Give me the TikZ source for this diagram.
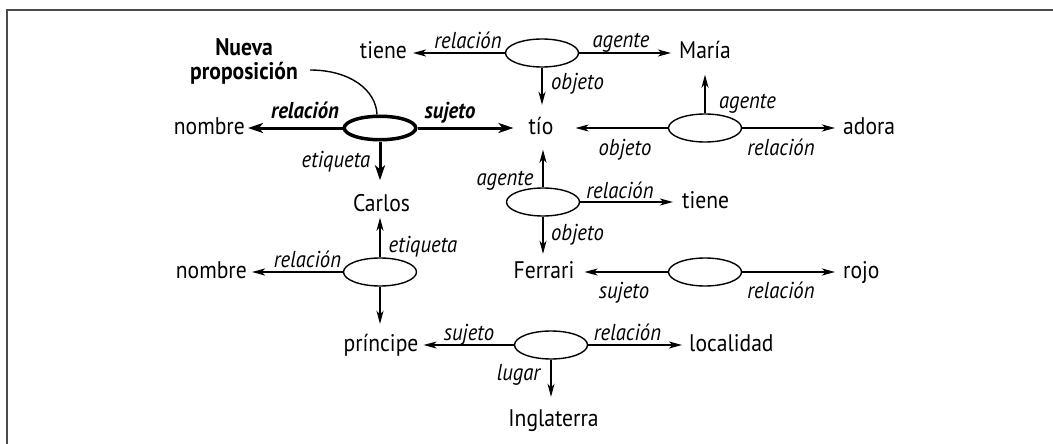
\documentclass[tikz,border=0pt]{standalone}
\usepackage{fontspec}
\setmainfont{PT Sans}[FakeStretch=0.9]
\usetikzlibrary{arrows.meta,shapes.geometric,calc}
\begin{document}
\begin{tikzpicture}[x=1pt,y=-1pt,
  font=\fontsize{24}{25}\selectfont,
  word/.style={inner sep=0pt, text height=17pt, text depth=5pt},
  lab/.style={font=\fontsize{23}{24}\selectfont\itshape, inner sep=0pt, anchor=base},
  blab/.style={font=\fontsize{23}{24}\selectfont\bfseries\itshape, inner sep=0pt, anchor=base},
  prop/.style={ellipse, draw, line width=1.4pt, minimum width=73pt, minimum height=28pt, inner sep=0pt},
  bprop/.style={ellipse, draw, line width=3.5pt, minimum width=71.5pt, minimum height=23.5pt, inner sep=0pt},
  rel/.style={line width=1.4pt, -{Stealth[length=13pt,width=7pt,inset=3.5pt]}},
  brel/.style={line width=3pt, -{Stealth[length=15pt,width=10pt,inset=4pt]}},
  frame/.style={line width=2pt, gray!60!black}
]
\useasboundingbox (0,0) rectangle (1053,444);
\draw[frame] (7,444) -- (7,10) -- (1053,10);

% propositions
\node[prop] (e1) at (542,53) {};
\node[bprop] (e0) at (380,128) {};
\node[prop] (e2) at (705,128) {};
\node[prop] (e4) at (543,202) {};
\node[prop] (e3) at (380,272) {};
\node[prop] (e6) at (705,272) {};
\node[prop] (e5) at (551,345) {};

% concepts
\node[word, anchor=east] (tiene1) at (407,53) {tiene};
\node[word] (maria) at (705,53) {María};
\node[word, anchor=east] (nombre1) at (245,128) {nombre};
\node[word] (tio) at (541,128) {tío};
\node[word, anchor=west] (adora) at (843,128) {adora};
\node[word] (carlos) at (381.5,205.5) {Carlos};
\node[word, anchor=west] (tiene2) at (682,202) {tiene};
\node[word, anchor=east] (nombre2) at (247,272) {nombre};
\node[word] (ferrari) at (544,272) {Ferrari};
\node[word, anchor=west] (rojo) at (843,272) {rojo};
\node[word] (principe) at (381,345) {príncipe};
\node[word, anchor=west] (localidad) at (689,345) {localidad};
\node[word] (inglaterra) at (553.5,420.5) {Inglaterra};

\node[font=\fontsize{24}{24}\selectfont\bfseries, align=center, inner sep=0pt] (nueva) at (244,61.5) {Nueva\\proposición};

% connectors
\draw[rel, shorten >=6pt] (e1.west) -- (tiene1.east);
\draw[rel, shorten >=8pt] (e1.east) -- (maria.west);
\draw[rel, shorten >=12pt] (e1.south) -- (e1.south |- tio.north);

\draw[brel, shorten >=3pt] (e0.west) -- (nombre1.east);
\draw[brel, shorten >=15pt] (e0.east) -- (tio.west);
\draw[brel, shorten >=14pt] (e0.south) -- (e0.south |- carlos.north);

\draw[rel, shorten >=22pt] (e2.west) -- (tio.east);
\draw[rel, shorten >=8pt] (e2.east) -- (adora.west);
\draw[rel, shorten >=10.5pt] (e2.north) -- (e2.north |- maria.south);

\draw[rel, shorten >=10.5pt] (e4.north) -- (e4.north |- tio.south);
\draw[rel, shorten >=9pt] (e4.east) -- (tiene2.west);
\draw[rel, shorten >=7pt] (e4.south) -- (e4.south |- ferrari.north);

\draw[rel, shorten >=1pt] (e3.north) -- (e3.north |- carlos.south);
\draw[rel, shorten >=5pt] (e3.west) -- (nombre2.east);
\draw[rel, shorten >=10pt] (e3.south) -- (e3.south |- principe.north);

\draw[rel, shorten >=10pt] (e6.west) -- (ferrari.east);
\draw[rel, shorten >=8pt] (e6.east) -- (rojo.west);

\draw[rel, shorten >=5pt] (e5.west) -- (principe.east);
\draw[rel, shorten >=7pt] (e5.east) -- (localidad.west);
\draw[rel, shorten >=12.5pt] (e5.south) -- (e5.south |- inglaterra.north);

\draw[line width=1.4pt] ($(nueva.east)+(12,8.5)$) .. controls (350,70) and (376,90) .. ([xshift=-3pt]e0.north);

% labels
\node[lab] (l1) at (468,49) {relación};
\node[lab] (l2) at (621,48) {agente};
\node[lab] (l3) at (577.5,89) {objeto};
\node[blab] (l4) at (305,118) {relación};
\node[blab] (l5) at (450,118) {sujeto};
\node[lab] (l6) at (336,167) {etiqueta};
\node[lab] (l7) at (625,155) {objeto};
\node[lab] (l8) at (781,155) {relación};
\node[lab] (l9) at (747.5,109) {agente};
\node[lab] (l10) at (505,185) {agente};
\node[lab] (l11) at (620,198) {relación};
\node[lab] (l12) at (577.5,240) {objeto};
\node[lab] (l13) at (423,252) {etiqueta};
\node[lab] (l14) at (307.5,267) {relación};
\node[lab] (l15) at (624,298) {sujeto};
\node[lab] (l16) at (781,298) {relación};
\node[lab] (l17) at (469,340) {sujeto};
\node[lab] (l18) at (627.5,340) {relación};
\node[lab] (l19) at (518.5,380) {lugar};
\end{tikzpicture}
\end{document}
